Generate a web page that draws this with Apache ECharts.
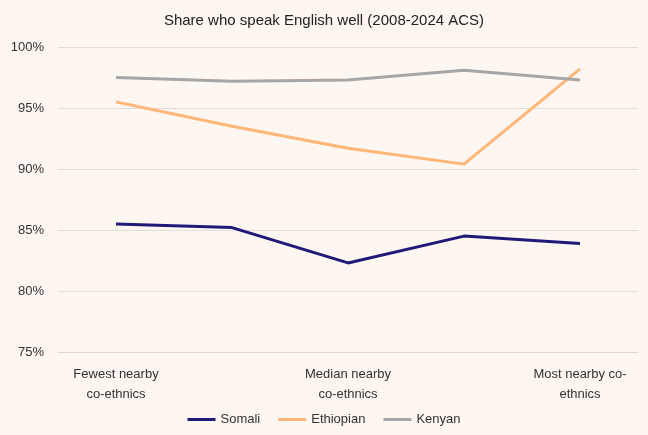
<!DOCTYPE html>
<html><head><meta charset="utf-8">
<script src="https://cdn.jsdelivr.net/npm/echarts@6/dist/echarts.min.js"></script>
<style>html,body{margin:0;padding:0;background:#fdf6f1}#c{width:648px;height:435px}</style>
</head><body><div id="c"></div>
<script>
const categories = ["Fewest nearby\nco-ethnics", "", "Median nearby\nco-ethnics", "", "Most nearby co-\nethnics"];
const somali = [85.5, 85.2, 82.3, 84.5, 83.9];
const ethiopian = [95.5, 93.5, 91.7, 90.4, 98.2];
const kenyan = [97.5, 97.2, 97.3, 98.1, 97.3];
const chart = echarts.init(document.getElementById('c'));
const font = 'Liberation Sans';
chart.setOption({
  backgroundColor: '#fdf6f1',
  textStyle: {fontFamily: font},
  title: {text: 'Share who speak English well (2008-2024 ACS)', left: 'center', top: 8,
    textStyle: {fontSize: 15, fontWeight: 'normal', color: '#222', fontFamily: font}},
  legend: {bottom: 4, itemWidth: 28, itemHeight: 3, icon: 'rect', itemGap: 18,
    textStyle: {fontSize: 13, color: '#333'}},
  grid: {left: 58, right: 10, top: 47, bottom: 83},
  xAxis: {type: 'category', data: categories, boundaryGap: true,
    axisTick: {show: false}, axisLine: {lineStyle: {color: '#d9d9d9'}},
    axisLabel: {interval: 0, fontSize: 13, color: '#333', lineHeight: 20, margin: 12}},
  yAxis: {type: 'value', min: 75, max: 100, interval: 5,
    axisLabel: {formatter: v => v + '%', fontSize: 13, color: '#333', margin: 14},
    splitLine: {lineStyle: {color: '#e0dcd8'}}},
  series: [
    {name: 'Somali', type: 'line', data: somali, symbol: 'none', lineStyle: {width: 3, color: '#1f1a78'}, itemStyle: {color: '#1f1a78'}},
    {name: 'Ethiopian', type: 'line', data: ethiopian, symbol: 'none', lineStyle: {width: 3, color: '#ffb676'}, itemStyle: {color: '#ffb676'}},
    {name: 'Kenyan', type: 'line', data: kenyan, symbol: 'none', lineStyle: {width: 3, color: '#a6a6a6'}, itemStyle: {color: '#a6a6a6'}}
  ]
});
</script></body></html>
